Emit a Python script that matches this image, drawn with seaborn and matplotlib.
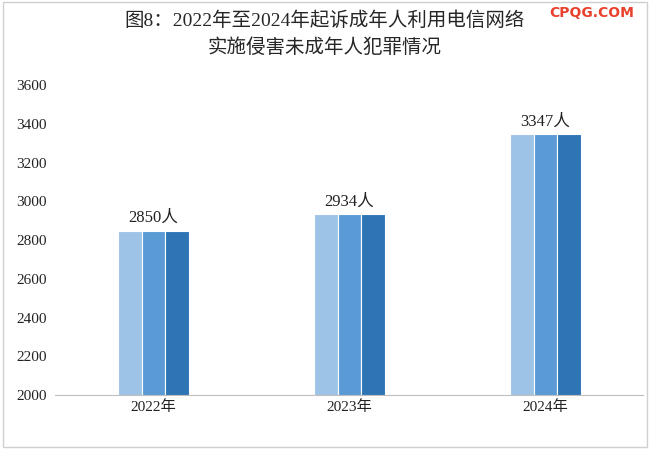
import matplotlib
matplotlib.use("Agg")
import matplotlib.pyplot as plt
import pandas as pd
import seaborn as sns

years = ["2022年", "2023年", "2024年"]
counts = [2850, 2934, 3347]
labels = ["2850人", "2934人", "3347人"]
stripes = ["a", "b", "c"]
stripe_colors = ["#9dc3e6", "#5b9bd5", "#2e75b6"]

sns.set_style("white")
plt.rcParams['font.family'] = ['Liberation Serif', 'Noto Sans CJK SC']

rows = [(y, s, c) for y, c in zip(years, counts) for s in stripes]
df = pd.DataFrame(rows, columns=["year", "stripe", "count"])

fig = plt.figure(figsize=(6.5, 4.49), dpi=100)
ax = fig.add_axes([0.085, 0.12, 0.905, 0.69])
sns.barplot(data=df, x="year", y="count", hue="stripe", palette=stripe_colors,
            width=0.36, dodge=True, legend=False, ax=ax, edgecolor="white",
            linewidth=0.8, saturation=1)

ax.set_ylim(2000, 3600)
ax.set_yticks(range(2000, 3601, 200))
ax.tick_params(axis="both", length=0, labelsize=11, colors="#222222")
ax.tick_params(axis="y", pad=6)
ax.set_xlabel("")
ax.set_ylabel("")
for sp in ["top", "right"]:
    ax.spines[sp].set_visible(False)
ax.spines["left"].set_visible(False)
ax.spines["bottom"].set_color("#bfbfbf")

for i, (c, t) in enumerate(zip(counts, labels)):
    ax.text(i, c + 25, t, ha="center", va="bottom", fontsize=12, color="#222222")

fig.text(0.5, 0.955, "图8：2022年至2024年起诉成年人利用电信网络", ha="center", va="center",
         fontsize=14)
fig.text(0.5, 0.895, "实施侵害未成年人犯罪情况", ha="center", va="center",
         fontsize=14)
fig.text(0.975, 0.97, "CPQG.COM", ha="right", va="center", fontsize=10, color="#e8412c",
         fontweight="bold", family="DejaVu Sans")

border = plt.Rectangle((0.005, 0.005), 0.99, 0.99, transform=fig.transFigure,
                       fill=False, edgecolor="#d0d0d0", linewidth=1)
fig.patches.append(border)

fig.savefig("out.png", dpi=100)
